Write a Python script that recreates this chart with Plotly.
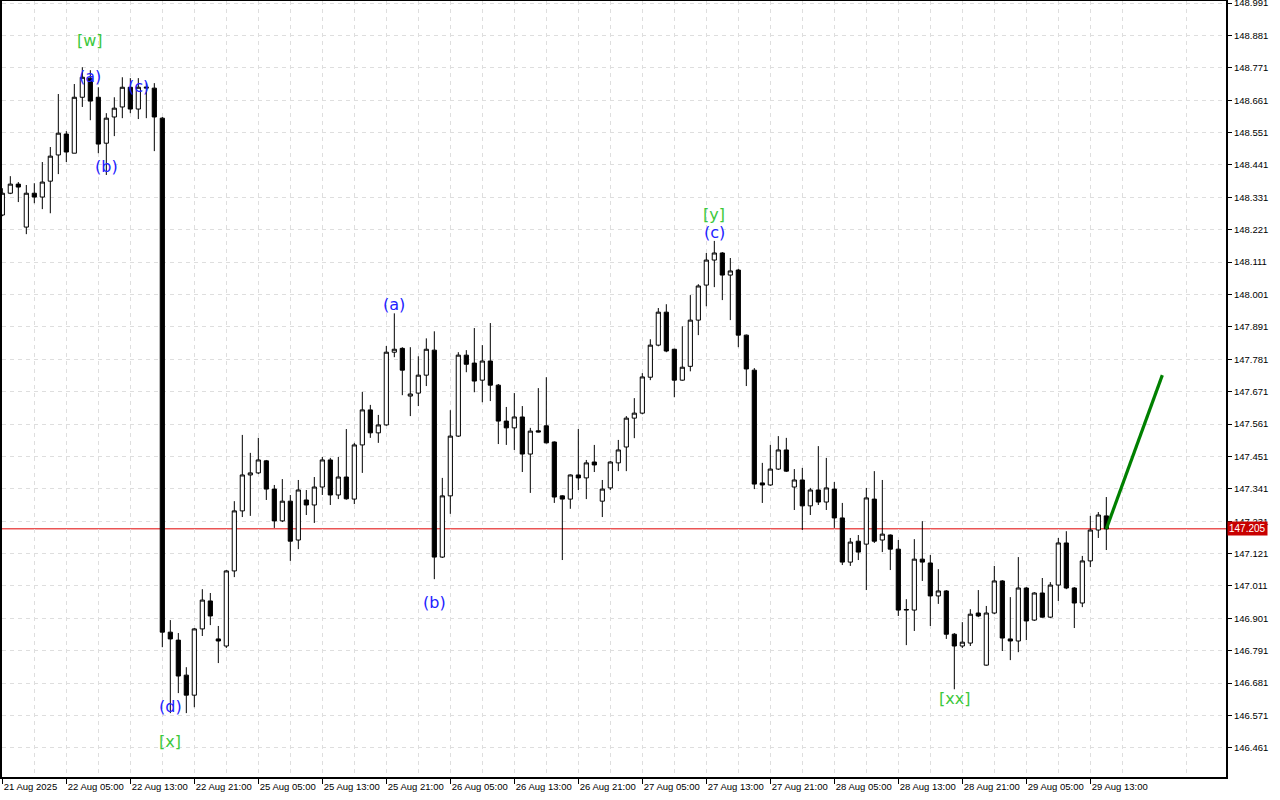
import plotly.graph_objects as go

# ---------------- data (H1 candles, index 0 = 21 Aug 2025 21:00) ----------------
opens = [148.271, 148.345, 148.376, 148.230, 148.345, 148.332, 148.386, 148.475, 148.546, 148.481,
         148.671, 148.736, 148.671, 148.515, 148.604, 148.638, 148.705, 148.631, 148.702, 148.702,
         148.600, 146.854, 146.827, 146.708, 146.640, 146.865, 146.960, 146.831, 146.807, 147.062,
         147.266, 147.388, 147.395, 147.436, 147.340, 147.232, 147.299, 147.167, 147.303, 147.286,
         147.347, 147.439, 147.320, 147.381, 147.306, 147.490, 147.609, 147.531, 147.558, 147.805,
         147.818, 147.656, 147.666, 147.727, 147.812, 147.109, 147.317, 147.520, 147.795, 147.768,
         147.710, 147.775, 147.693, 147.571, 147.548, 147.585, 147.459, 147.538, 147.555, 147.500,
         147.317, 147.306, 147.388, 147.378, 147.432, 147.299, 147.344, 147.429, 147.483, 147.581,
         147.598, 147.720, 147.829, 147.941, 147.815, 147.710, 147.757, 147.914, 148.033, 148.118,
         148.142, 148.067, 148.084, 147.863, 147.744, 147.361, 147.354, 147.408, 147.473, 147.347,
         147.371, 147.283, 147.337, 147.296, 147.340, 147.242, 147.092, 147.163, 147.153, 147.306,
         147.167, 147.184, 147.136, 146.929, 146.929, 147.102, 147.089, 146.977, 146.994, 146.847,
         146.807, 146.817, 146.919, 146.742, 146.919, 147.028, 146.831, 146.824, 147.004, 146.895,
         146.987, 146.905, 147.014, 147.157, 147.004, 146.953, 147.096, 147.201, 147.249]

highs = [148.362, 148.403, 148.383, 148.373, 148.379, 148.451, 148.502, 148.682, 148.556, 148.716,
         148.773, 148.763, 148.705, 148.617, 148.671, 148.739, 148.736, 148.736, 148.719, 148.719,
         148.604, 146.895, 146.851, 146.735, 146.868, 147.000, 146.987, 146.875, 147.065, 147.299,
         147.524, 147.463, 147.514, 147.439, 147.354, 147.374, 147.320, 147.371, 147.337, 147.381,
         147.449, 147.446, 147.449, 147.544, 147.497, 147.670, 147.626, 147.592, 147.826, 147.937,
         147.822, 147.822, 147.791, 147.852, 147.876, 147.378, 147.608, 147.805, 147.812, 147.887,
         147.829, 147.904, 147.697, 147.619, 147.666, 147.622, 147.548, 147.683, 147.720, 147.502,
         147.319, 147.390, 147.544, 147.439, 147.490, 147.371, 147.435, 147.507, 147.588, 147.649,
         147.734, 147.849, 147.955, 147.968, 147.817, 147.893, 147.999, 148.036, 148.142, 148.183,
         148.145, 148.125, 148.088, 147.865, 147.751, 147.429, 147.490, 147.520, 147.514, 147.408,
         147.412, 147.344, 147.486, 147.446, 147.364, 147.293, 147.174, 147.184, 147.344, 147.401,
         147.371, 147.186, 147.167, 146.966, 147.170, 147.231, 147.116, 147.068, 146.997, 146.851,
         146.888, 146.932, 146.997, 146.943, 147.079, 147.031, 146.973, 147.109, 147.007, 146.990,
         147.038, 147.024, 147.174, 147.197, 147.007, 147.113, 147.249, 147.262, 147.313]

lows = [148.267, 148.342, 148.315, 148.206, 148.311, 148.291, 148.277, 148.410, 148.451, 148.481,
        148.638, 148.593, 148.481, 148.407, 148.539, 148.600, 148.617, 148.597, 148.600, 148.488,
        146.803, 146.579, 146.647, 146.579, 146.599, 146.841, 146.878, 146.749, 146.800, 147.041,
        147.245, 147.249, 147.391, 147.303, 147.208, 147.228, 147.096, 147.136, 147.252, 147.225,
        147.320, 147.286, 147.306, 147.304, 147.289, 147.395, 147.514, 147.497, 147.555, 147.788,
        147.659, 147.588, 147.622, 147.690, 147.034, 147.106, 147.256, 147.517, 147.737, 147.669,
        147.635, 147.639, 147.493, 147.490, 147.473, 147.398, 147.327, 147.533, 147.495, 147.293,
        147.099, 147.273, 147.337, 147.306, 147.398, 147.245, 147.337, 147.401, 147.401, 147.513,
        147.594, 147.710, 147.825, 147.805, 147.652, 147.708, 147.740, 147.863, 147.961, 148.026,
        147.982, 147.914, 147.822, 147.690, 147.340, 147.293, 147.351, 147.405, 147.398, 147.269,
        147.201, 147.252, 147.286, 147.269, 147.208, 147.082, 147.079, 147.099, 146.997, 147.157,
        147.126, 147.065, 146.909, 146.810, 146.858, 147.028, 146.875, 146.950, 146.831, 146.660,
        146.800, 146.807, 146.905, 146.740, 146.915, 146.790, 146.759, 146.786, 146.827, 146.892,
        146.903, 146.902, 146.960, 147.000, 146.868, 146.939, 147.075, 147.174, 147.133]

closes = [148.345, 148.376, 148.366, 148.345, 148.332, 148.383, 148.471, 148.549, 148.485, 148.671,
          148.739, 148.658, 148.512, 148.600, 148.634, 148.705, 148.631, 148.705, 148.705, 148.604,
          146.854, 146.831, 146.705, 146.640, 146.865, 146.963, 146.909, 146.824, 147.062, 147.266,
          147.388, 147.395, 147.439, 147.340, 147.232, 147.299, 147.163, 147.337, 147.286, 147.347,
          147.439, 147.320, 147.381, 147.307, 147.490, 147.609, 147.531, 147.558, 147.805, 147.815,
          147.744, 147.663, 147.727, 147.815, 147.109, 147.317, 147.520, 147.795, 147.764, 147.707,
          147.775, 147.693, 147.571, 147.548, 147.585, 147.459, 147.537, 147.534, 147.497, 147.313,
          147.306, 147.388, 147.378, 147.429, 147.422, 147.340, 147.432, 147.473, 147.581, 147.598,
          147.721, 147.829, 147.941, 147.809, 147.710, 147.754, 147.914, 148.030, 148.118, 148.142,
          148.067, 148.081, 147.863, 147.748, 147.357, 147.354, 147.408, 147.473, 147.401, 147.371,
          147.283, 147.337, 147.296, 147.344, 147.242, 147.092, 147.160, 147.126, 147.310, 147.163,
          147.187, 147.136, 146.929, 146.931, 147.102, 147.092, 146.977, 146.994, 146.847, 146.807,
          146.820, 146.915, 146.909, 146.919, 147.028, 146.834, 146.824, 147.004, 146.892, 146.987,
          146.905, 147.014, 147.157, 147.004, 146.953, 147.096, 147.201, 147.252, 147.205]

candle_index = list(range(len(opens)))

tick_positions = [0, 8, 16, 24, 32, 40, 48, 56, 64, 72, 80, 88, 96, 104, 112, 120, 128, 136]
tick_labels = ["21 Aug 2025", "22 Aug 05:00", "22 Aug 13:00", "22 Aug 21:00", "25 Aug 05:00",
               "25 Aug 13:00", "25 Aug 21:00", "26 Aug 05:00", "26 Aug 13:00", "26 Aug 21:00",
               "27 Aug 05:00", "27 Aug 13:00", "27 Aug 21:00", "28 Aug 05:00", "28 Aug 13:00",
               "28 Aug 21:00", "29 Aug 05:00", "29 Aug 13:00"]

price_ticks = [146.461, 146.571, 146.681, 146.791, 146.901, 147.011, 147.121, 147.231,
               147.341, 147.451, 147.561, 147.671, 147.781, 147.891, 148.001, 148.111,
               148.221, 148.331, 148.441, 148.551, 148.661, 148.771, 148.881, 148.991]

current_price = 147.205

# forecast arrow (from last candle)
arrow_x = [138, 145]
arrow_y = [147.205, 147.727]

# wave labels
wave_text = ["[w]", "(a)", "(b)", "(c)", "(d)", "[x]", "(a)", "(b)", "[y]", "(c)", "[xx]"]
wave_x = [11, 11, 13, 17, 21, 21, 49, 54, 89, 89, 119]
wave_y = [148.865, 148.743, 148.437, 148.709, 146.603, 146.481, 147.968, 146.956, 148.274, 148.210, 146.630]
wave_color = ["#3cc83c", "#2222ff", "#2222ff", "#2222ff", "#2222ff", "#3cc83c",
              "#2222ff", "#2222ff", "#3cc83c", "#2222ff", "#3cc83c"]

# ---------------- figure ----------------
GRID = "#dedede"
AXFONT = dict(family="Liberation Sans, Arial, sans-serif", size=9.5, color="black")

fig = go.Figure()

fig.add_trace(go.Candlestick(
    x=candle_index, open=opens, high=highs, low=lows, close=closes,
    increasing=dict(line=dict(color="black", width=1), fillcolor="white"),
    decreasing=dict(line=dict(color="black", width=1), fillcolor="black"),
    whiskerwidth=0, showlegend=False, hoverinfo="skip",
))

fig.add_trace(go.Scatter(
    x=arrow_x, y=arrow_y, mode="lines",
    line=dict(color="#008000", width=3.2), showlegend=False, hoverinfo="skip",
))

fig.add_shape(type="line", xref="paper", x0=0, x1=1, yref="y", y0=current_price, y1=current_price,
              line=dict(color="#e00000", width=1), layer="below")

for t, x, y, c in zip(wave_text, wave_x, wave_y, wave_color):
    fig.add_annotation(x=x, y=y, text=t, showarrow=False,
                       font=dict(family="DejaVu Sans, sans-serif", size=16, color=c))

fig.add_annotation(xref="paper", x=1, xanchor="left", xshift=1, yref="y", y=current_price,
                   text=f"{current_price:.3f}", showarrow=False, bgcolor="#c80000",
                   borderpad=1, font=dict(family="Liberation Sans, Arial, sans-serif", size=10, color="white"))

fig.update_layout(
    width=1280, height=800,
    margin=dict(l=2, r=54, t=1, b=23, autoexpand=False),
    paper_bgcolor="white", plot_bgcolor="white",
    boxgap=0.3, boxgroupgap=0.25,
    showlegend=False,
    xaxis=dict(
        range=[-0.04, 152.96], rangeslider=dict(visible=False),
        tickmode="array", tickvals=tick_positions, ticktext=tick_labels,
        ticklabelposition="outside right", tickangle=0, automargin=False,
        ticks="outside", ticklen=5, tickcolor="black", tickfont=AXFONT,
        showgrid=True, gridcolor=GRID, griddash="4px,4px", gridwidth=1,
        minor=dict(tickmode="array", tickvals=list(range(4, 153, 8)), showgrid=True,
                   gridcolor=GRID, griddash="4px,4px", gridwidth=1, ticks=""),
        showline=True, linecolor="black", linewidth=2, mirror=True,
        zeroline=False, fixedrange=True,
    ),
    yaxis=dict(
        side="right", range=[146.362, 148.998], automargin=False,
        tickmode="array", tickvals=price_ticks, ticktext=[f"{v:.3f}" for v in price_ticks],
        ticklabeloverflow="allow",
        ticks="outside", ticklen=4, tickcolor="black", tickfont=AXFONT,
        showgrid=True, gridcolor=GRID, griddash="4px,4px", gridwidth=1,
        showline=True, linecolor="black", linewidth=2, mirror=True,
        zeroline=False, fixedrange=True,
    ),
)

fig.write_html(
    "out.html",
    config={"displayModeBar": False},
    post_script="document.body.style.margin='0px'; document.body.style.overflow='hidden';",
)
